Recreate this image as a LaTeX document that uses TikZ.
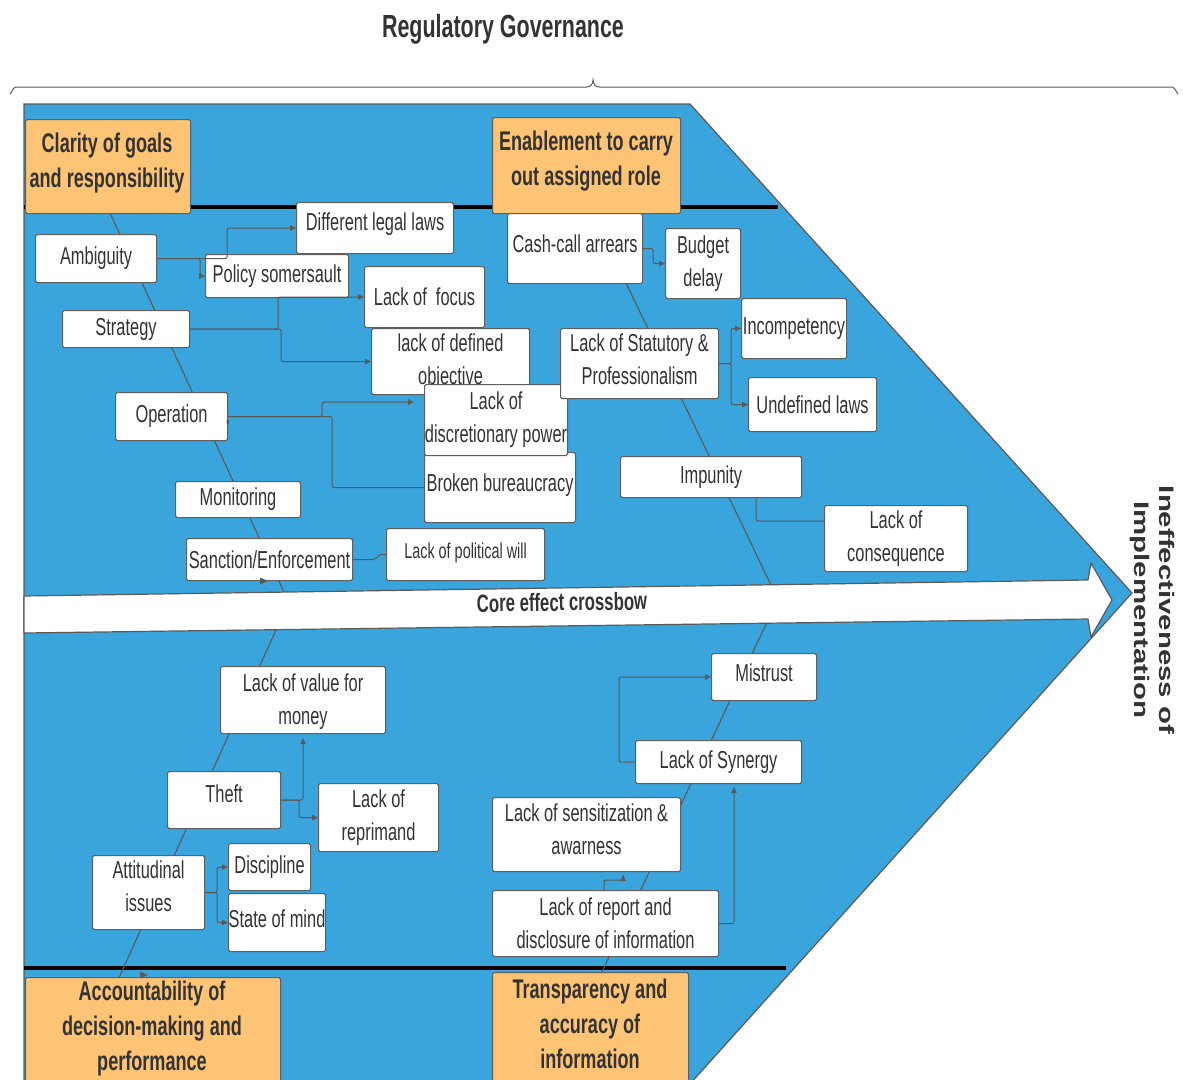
\documentclass[tikz,border=0pt]{standalone}
\usepackage{fontspec}
\setmainfont[FakeStretch=0.67]{Liberation Sans}
\newfontfamily\widefont{Liberation Sans}
\usetikzlibrary{arrows.meta,calc}

\definecolor{fishblue}{RGB}{58,164,221}
\definecolor{headfill}{RGB}{254,196,118}
\definecolor{boxline}{RGB}{95,95,95}
\definecolor{linegray}{RGB}{90,90,90}
\definecolor{txt}{RGB}{51,51,51}

% box given by its top-left and bottom-right corners (pixel units, y downwards)
\newcommand\boxat[7][box]{%
  \node[#1,anchor=north west,minimum width={(#5-#3)*1pt},minimum height={(#6-#4)*1pt}] (#2) at (#3,#4) {#7};}
% text block moved vertically inside its box
\newcommand\lift[2]{\raisebox{#1}[\height][\depth]{\begin{tabular}{@{}c@{}}#2\end{tabular}}}

\tikzset{
  box/.style={draw=boxline, fill=white, rounded corners=1.5pt, line width=1.1pt,
    inner sep=0pt, align=center, text=txt, font=\fontsize{24.5}{33}\selectfont},
  smallbox/.style={box, font=\fontsize{21.5}{26}\selectfont},
  head/.style={draw=boxline, fill=headfill, rounded corners=1.5pt, line width=1.1pt,
    inner sep=0pt, align=center, text=txt},
  headtext/.style={align=center, text=txt, inner sep=0pt, font=\fontsize{27}{35}\selectfont\bfseries},
  conn/.style={draw=linegray, line width=1pt, rounded corners=2pt},
  tip/.style={-{Triangle[length=6pt,width=5.5pt]}},
  rib/.style={draw=linegray, line width=1.1pt},
  spine/.style={draw=black, line width=3.5pt},
}

\begin{document}
\begin{tikzpicture}[x=1pt,y=-1pt]
\useasboundingbox (0,0) rectangle (1183,1079);

% title and brace
\node[text=txt, font=\fontsize{32}{36}\selectfont\bfseries] (title) at (503,29) {Regulatory Governance};
\draw[linegray, line width=1pt] (10,93) to[out=-90,in=180] (16,87) -- (587,87)
  to[out=0,in=-90] (593,80) to[out=-90,in=180] (599,87) -- (1172,87) to[out=0,in=-90] (1178,93);

% fish body
\filldraw[fill=fishblue, draw=linegray, line width=1.2pt]
  (24,1085) -- (24,104) -- (690,104) -- (1132,593) -- (689,1085);

% heavy horizontal bones
\draw[spine] (24,207) -- (778,207);
\draw[spine] (24,968) -- (786,968);

% ribs
\coordinate (ra1) at (110,213); \coordinate (ra2) at (284,592);
\coordinate (rb1) at (626,283); \coordinate (rb2) at (771,585);
\coordinate (rc1) at (276,630); \coordinate (rc2) at (118,980);
\coordinate (rd1) at (768,620); \coordinate (rd2) at (602,972);
\draw[rib] (ra1) -- (ra2);
\draw[rib] (rb1) -- (rb2);
\draw[rib] (rc1) -- (rc2);
\draw[rib] (rd1) -- (rd2);

% central crossbow arrow
\draw[fill=white, draw=linegray, line width=1.2pt, line join=round]
  (24,596) -- (1088,580) -- (1091,563) -- (1112,600) -- (1091,637) -- (1088,619) -- (24,633) -- cycle;
\node[rotate=0.86, text=txt, font=\fontsize{25}{30}\selectfont\bfseries] (core) at (562,602) {Core effect crossbow};

% head boxes
\boxat[head]{clar}{25}{119}{190}{213}{}
\node[headtext] (clarT) at (107,163) {Clarity of goals\\and responsibility};
\boxat[head]{enab}{492}{117}{680}{213}{}
\node[headtext] (enabT) at (586,161) {Enablement to carry\\out assigned role};
\boxat[head]{acct}{25}{977}{280}{1095}{}
\node[headtext] (acctT) at (152,1029) {Accountability of\\decision-making and\\performance};
\boxat[head]{tran}{492}{972}{688}{1095}{}
\node[headtext] (tranT) at (590,1024) {Transparency and\\accuracy of\\information};

% clarity of goals branch
\boxat{amb}{35}{234}{156}{282}{Ambiguity}
\boxat{dll}{296}{202}{453}{253}{\lift{4pt}{Different legal laws}}
\boxat{pol}{205}{254}{348}{297}{Policy somersault}
\boxat{lof}{364}{266}{484}{327}{Lack of\ \ focus}
\boxat{ldo}{371}{328}{529}{387}{\lift{0pt}{lack of defined\\objective}}
\boxat{str}{62}{310}{189}{347}{Strategy}
\boxat{opn}{115}{392}{227}{440}{Operation}
\boxat{bb}{424}{452}{575}{522}{\lift{3pt}{Broken bureaucracy}}
\boxat{ldp}{424}{384}{567}{455}{Lack of\\discretionary power}
\boxat{mon}{175}{481}{300}{517}{Monitoring}
\boxat{san}{186}{538}{352}{580}{Sanction/Enforcement}
\boxat[smallbox]{lpw}{386}{528}{544}{580}{\lift{1pt}{Lack of political will}}
\node[text=txt, font=\fontsize{6}{6}\selectfont, inner sep=0pt] (bmark) at (228,422) {B};

% enablement branch
\boxat{cc}{507}{213}{642}{283}{\lift{3pt}{Cash-call arrears}}
\boxat{bd}{665}{228}{740}{298}{Budget\\delay}
\boxat{inc}{741}{298}{846}{358}{Incompetency}
\boxat{ls}{560}{328}{718}{398}{\lift{2pt}{Lack of Statutory \&\\Professionalism}}
\boxat{ul}{748}{377}{876}{431}{Undefined laws}
\boxat{imp}{620}{456}{801}{497}{Impunity}
\boxat{lc}{824}{505}{967}{564}{\lift{0pt}{Lack of\\consequence}}

% accountability branch
\boxat{lvm}{220}{666}{385}{733}{\lift{-1pt}{Lack of value for\\money}}
\boxat{th}{167}{771}{280}{828}{\lift{4pt}{Theft}}
\boxat{lr}{318}{783}{438}{851}{Lack of\\reprimand}
\boxat{att}{92}{855}{204}{929}{\lift{4pt}{Attitudinal\\issues}}
\boxat{dis}{228}{843}{310}{890}{Discipline}
\boxat{som}{228}{893}{325}{951}{\lift{2pt}{State of mind}}

% transparency branch
\boxat{mis}{711}{653}{816}{700}{\lift{2pt}{Mistrust}}
\boxat{syn}{635}{740}{801}{783}{Lack of Synergy}
\boxat{sen}{492}{797}{680}{871}{\lift{3pt}{Lack of sensitization \&\\awarness}}
\boxat{rep}{492}{890}{718}{952}{\lift{-2pt}{Lack of report and\\disclosure of information}}

% connectors
\draw[conn,tip] (amb.east) -- ++(70,0) |- (dll.west);
\draw[conn,tip] (amb.east) -- ++(43,0) |- (pol.west);
\draw[conn,tip] (str.east) -- ++(88,0) |- (lof.west);
\draw[conn,tip] (str.east) -- ++(91,0) |- (ldo.west);
\draw[conn,tip] (opn.east) -- ++(94,0) |- ($(ldp.north west)+(-10,18)$);
\draw[conn] (opn.east) -- ++(104,0) |- (bb.west);
\draw[conn] (san.east) -- ++(22,0) -- ++(4,-5) -- (lpw.west);

\draw[conn,tip] (cc.east) -- ++(10,0) |- (bd.west);
\draw[conn,tip] (ls.east) -- ++(12,0) |- (inc.west);
\draw[conn,tip] (ls.east) -- ++(12,0) |- (ul.west);
\draw[conn] ($(imp.south west)+(136,0)$) |- ($(lc.north west)+(0,16)$);

\draw[conn,tip] (th.east) -| ($(lvm.south west)+(83,4)$);
\draw[conn,tip] (th.east) -- ++(18,0) |- (lr.west);
\draw[conn,tip] (att.east) -- ++(12,0) |- (dis.west);
\draw[conn,tip] (att.east) -- ++(12,0) |- (som.west);

\draw[conn,tip] (syn.west) -- ++(-16,0) |- (mis.west);
\draw[conn,tip] (rep.east) -| ($(syn.south west)+(99,3)$);
\draw[conn,tip] ($(rep.north west)+(112,0)$) -- ++(0,-10) -| ($(sen.south west)+(131,3)$);

% small loose arrow tips
\fill[linegray] (148,975) -- ++(-8,-3.5) -- ++(0,7) -- cycle;
\fill[linegray] (268,581) -- ++(-8,-3.5) -- ++(0,7) -- cycle;

% effect
\node[rotate=-90, text=txt, align=center, inner sep=0pt,
  font=\widefont\bfseries\fontsize{21}{25}\selectfont] (effect) at (1152,610)
  {\scalebox{1.4}[1]{Ineffectiveness of}\\\scalebox{1.4}[1]{Implementation}};
\end{tikzpicture}
\end{document}
